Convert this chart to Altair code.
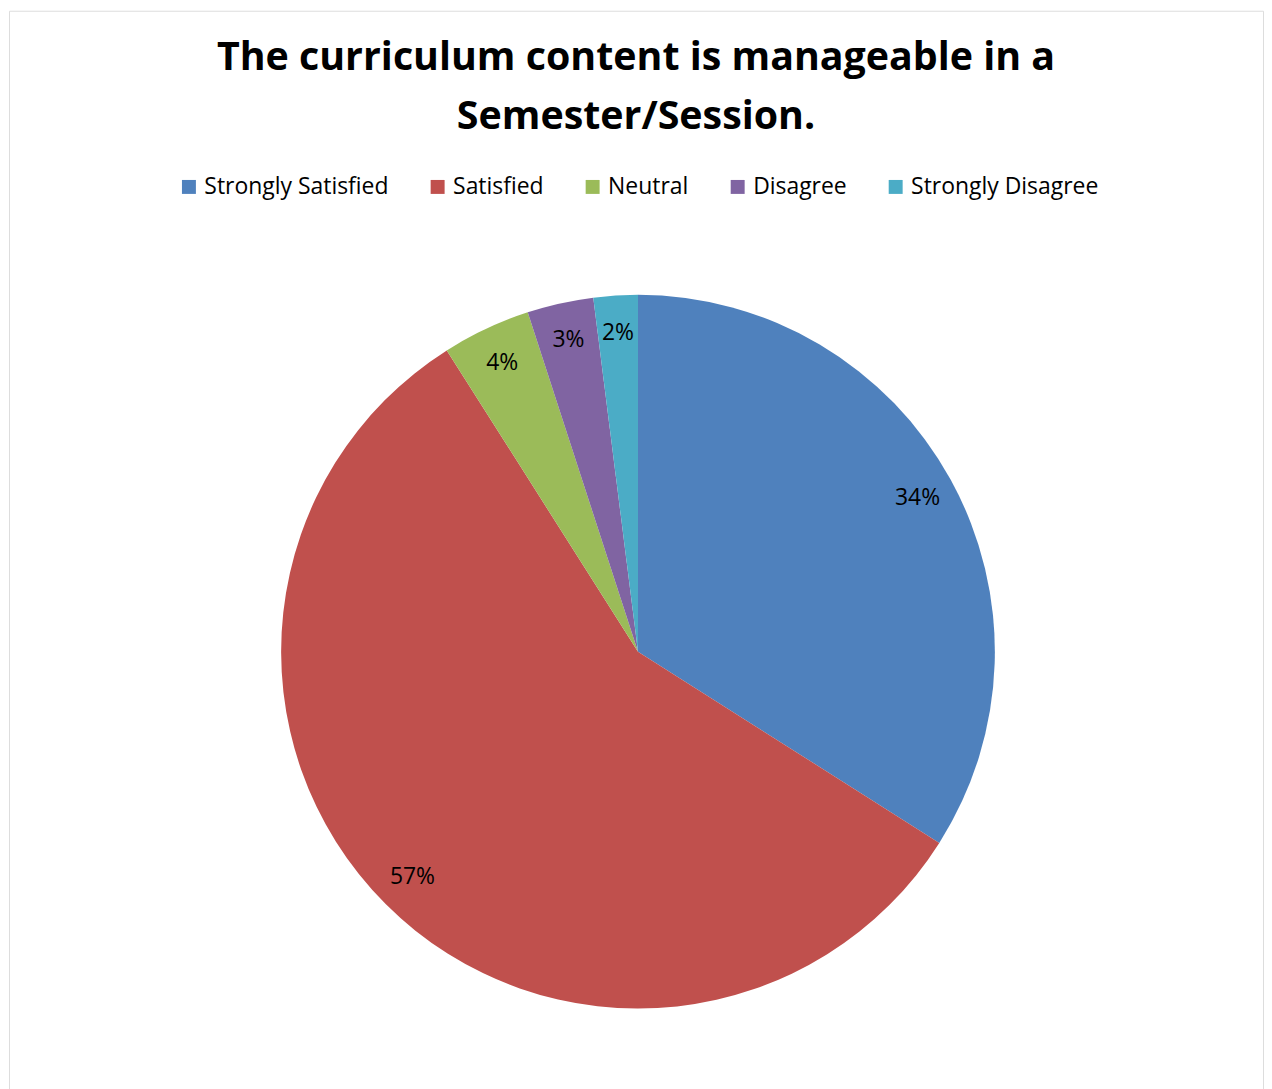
import altair as alt
import pandas as pd

categories = ["Strongly Satisfied", "Satisfied", "Neutral", "Disagree", "Strongly Disagree"]
values = [34, 57, 4, 3, 2]
labels = ["34%", "57%", "4%", "3%", "2%"]
colors = ["#4F81BD", "#C0504D", "#9BBB59", "#8064A2", "#4BACC6"]

df = pd.DataFrame({
    "category": categories,
    "value": values,
    "label": labels,
    "order": list(range(len(categories))),
})

FONT = "Open Sans"
CX, CY = 631, 643

base = alt.Chart(df).encode(
    theta=alt.Theta("value:Q", stack=True),
    order=alt.Order("order:Q"),
)

pie = base.mark_arc(outerRadius=358, stroke=None).encode(
    color=alt.Color(
        "category:N",
        scale=alt.Scale(domain=categories, range=colors),
        sort=categories,
        legend=alt.Legend(
            title=None,
            orient="none",
            direction="horizontal",
            legendX=169,
            legendY=165,
            symbolType="square",
            symbolSize=196,
            symbolStrokeWidth=0,
            labelFont=FONT,
            labelFontSize=23,
            labelColor="#000000",
            labelLimit=400,
            columnPadding=37.5,
            symbolOffset=0,
            labelOffset=4,
        ),
    ),
    x=alt.value(CX),
    y=alt.value(CY),
)

text = base.mark_text(
    radius=320, font=FONT, fontSize=23, color="#000000", align="center", baseline="middle"
).encode(
    text="label:N",
    x=alt.value(CX),
    y=alt.value(CY),
)

chart = (pie + text).properties(
    width=1258,
    height=1100,
    autosize=alt.AutoSizeParams(type="none"),
    padding={"left": 1, "top": 1, "right": 1, "bottom": 0},
    title=alt.TitleParams(
        text=["The curriculum content is manageable in a", "Semester/Session."],
        font=FONT,
        fontSize=39.5,
        fontWeight="bold",
        color="#000000",
        anchor="middle",
        baseline="top",
        offset=-127,
        lineHeight=59,
    ),
).configure_view(stroke="#828282", strokeWidth=2).configure(background="white")

chart.save("out.html", embed_options={"renderer": "svg", "actions": False})
